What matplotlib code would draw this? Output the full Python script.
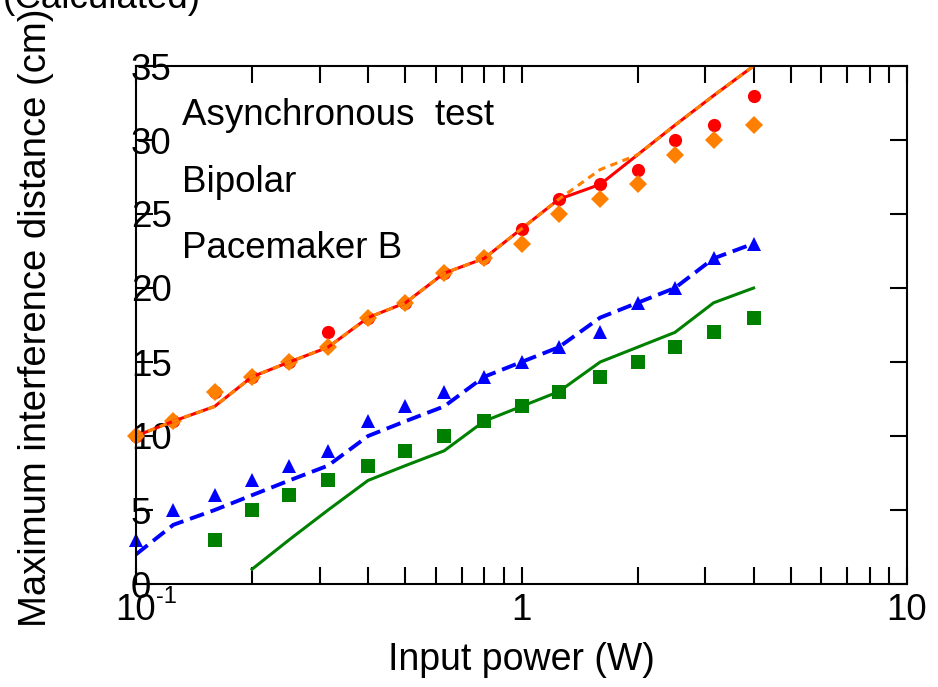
import matplotlib
matplotlib.use("Agg")
import matplotlib.pyplot as plt

plt.rcParams["font.family"] = ["Liberation Sans", "DejaVu Sans"]

# Input power steps (W)
power = [0.1, 0.125, 0.16, 0.2, 0.25, 0.315, 0.4, 0.5, 0.63, 0.8,
         1.0, 1.25, 1.6, 2.0, 2.5, 3.15, 4.0]

# Measured interference distances (cm)
red_pts = [10, 11, 13, 14, 15, 17, 18, 19, 21, 22, 24, 26, 27, 28, 30, 31, 33]
orange_pts = [10, 11, 13, 14, 15, 16, 18, 19, 21, 22, 23, 25, 26, 27, 29, 30, 31]
blue_pts = [3, 5, 6, 7, 8, 9, 11, 12, 13, 14, 15, 16, 17, 19, 20, 22, 23]
green_power = [0.16, 0.2, 0.25, 0.315, 0.4, 0.5, 0.63, 0.8,
               1.0, 1.25, 1.6, 2.0, 2.5, 3.15, 4.0]
green_pts = [3, 5, 6, 7, 8, 9, 10, 11, 12, 13, 14, 15, 16, 17, 18]

# Calculated curves (cm)
red_calc = [10, 11, 12, 14, 15, 16, 18, 19, 21, 22, 24, 26, 27, 29, 31, 33, 35]
orange_calc = [10, 11, 12, 14, 15, 16, 18, 19, 21, 22, 24, 26, 28, 29, 31, 33, 35]
blue_calc = [2, 4, 5, 6, 7, 8, 10, 11, 12, 14, 15, 16, 18, 19, 20, 22, 23]
green_calc_power = [0.2, 0.25, 0.315, 0.4, 0.5, 0.63, 0.8,
                    1.0, 1.25, 1.6, 2.0, 2.5, 3.15, 4.0]
green_calc = [1, 3, 5, 7, 8, 9, 11, 12, 13, 15, 16, 17, 19, 20]

y_ticks = [0, 5, 10, 15, 20, 25, 30, 35]
x_tick_pos = [0.1, 1, 10]
x_tick_base = ["10", "1", "10"]
x_tick_exp = ["-1", "", ""]

RED = "#ff0000"
ORANGE = "#ff8000"
BLUE = "#0000ff"
GREEN = "#008000"
FS = 26.5

fig = plt.figure(figsize=(9.38, 6.87), dpi=100)
ax = fig.add_axes([136 / 938, 1 - 584 / 687, 771 / 938, 518 / 687])
ax.set_xscale("log")
ax.set_xlim(0.1, 10)
ax.set_ylim(0, 35)

# markers
ax.plot(power, red_pts, "o", color=RED, ms=9.5, mew=0, zorder=2, clip_on=False)
ax.plot(power, orange_pts, "D", color=ORANGE, ms=9.5, mew=0, zorder=2.1, clip_on=False)
ax.plot(power, blue_pts, "^", color=BLUE, ms=10.5, mew=0, zorder=2.2, clip_on=False)
ax.plot(green_power, green_pts, "s", color=GREEN, ms=9.5, mew=0, zorder=2.3, clip_on=False)

# calculated curves
ax.plot(power, red_calc, "-", color=RED, lw=2.2, zorder=3)
ax.plot(power, orange_calc, color=ORANGE, lw=2.2, dashes=(2.4, 1.8), zorder=3.1)
ax.plot(power, blue_calc, color=BLUE, lw=2.8, dashes=(3.8, 1.8), zorder=3.2)
ax.plot(green_calc_power, green_calc, "-", color=GREEN, lw=2.2, zorder=3.3)

for sp in ax.spines.values():
    sp.set_linewidth(1.5)
    sp.set_zorder(4)

ax.set_yticks(y_ticks, labels=[str(v) for v in y_ticks], ha="left")
ax.tick_params(axis="y", which="both", direction="in", length=12, width=1.5,
               pad=3.6, labelsize=FS, left=True, right=True)
ax.tick_params(axis="x", which="both", direction="in", length=12, width=1.5,
               top=True, bottom=True, labelbottom=False)

# x tick labels: base number centred on the tick, exponent as a superscript
for xv, base, exp in zip(x_tick_pos, x_tick_base, x_tick_exp):
    ax.annotate(base, xy=(xv, 0), xycoords=ax.get_xaxis_transform(),
                xytext=(0, -9), textcoords="offset pixels",
                ha="center", va="top", fontsize=FS, annotation_clip=False)
    if exp:
        ax.annotate(exp, xy=(xv, 0), xycoords=ax.get_xaxis_transform(),
                    xytext=(20, -2), textcoords="offset pixels",
                    ha="left", va="top", fontsize=17, annotation_clip=False)

# in-plot captions
for yy, txt in zip([125, 192, 258], ["Asynchronous  test", "Bipolar", "Pacemaker B"]):
    ax.text((182 - 136) / 771, (584 - yy) / 518, txt, transform=ax.transAxes,
            ha="left", va="baseline", fontsize=FS)

fig.text(0.5 * (136 + 907) / 938, 1 - 670 / 687, "Input power (W)",
         ha="center", va="baseline", fontsize=FS + 0.5)
fig.text(36 / 938, 1 - 318 / 687, "Maximum interference distance (cm)",
         rotation=90, ha="center", va="center", fontsize=FS + 1)
fig.text(3 / 938, 1 - 8 / 687, "(Calculated)", ha="left", va="baseline", fontsize=FS)

fig.savefig("out.png", dpi=100)
